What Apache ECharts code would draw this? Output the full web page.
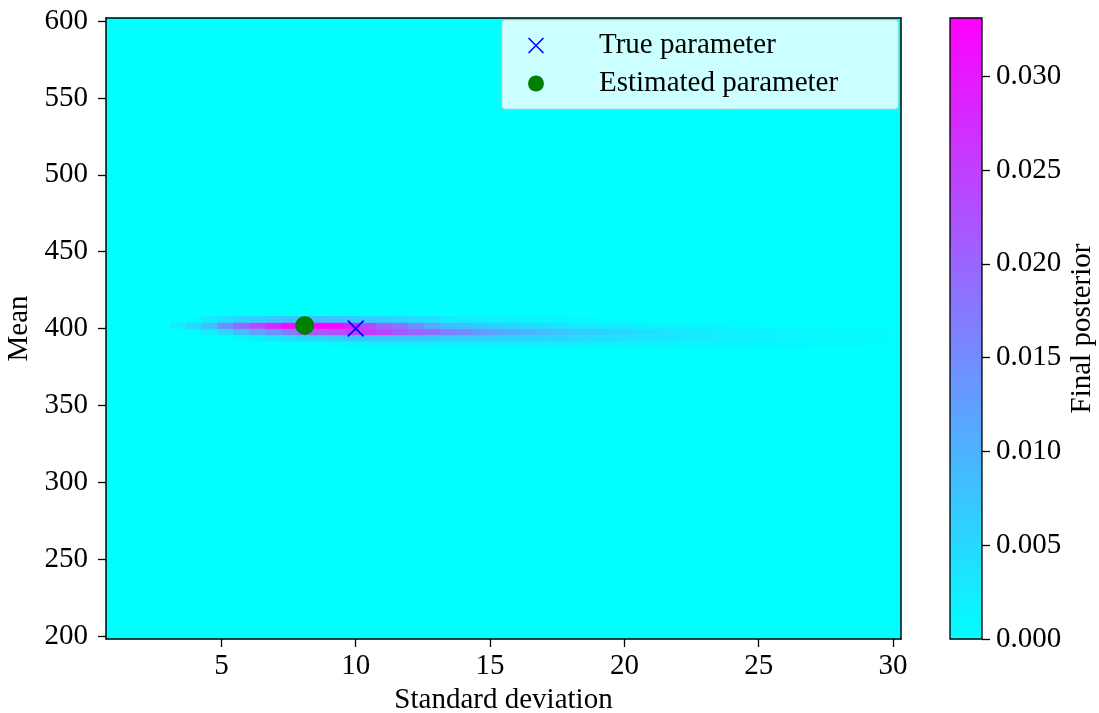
<!DOCTYPE html>
<html>
<head>
<meta charset="utf-8">
<script src="https://cdn.jsdelivr.net/npm/echarts@6/dist/echarts.min.js"></script>
<style>
  html, body { margin: 0; padding: 0; background: #ffffff; }
  #chart { width: 1099px; height: 713px; }
</style>
</head>
<body>
<div id="chart"></div>
<script>
// ---------------- DATA ----------------
// Standard-deviation grid (50 columns) of the posterior heatmap
const sigmaGrid = [1.000, 1.592, 2.184, 2.776, 3.367, 3.959, 4.551, 5.143, 5.735, 6.327,
  6.918, 7.510, 8.102, 8.694, 9.286, 9.878, 10.469, 11.061, 11.653, 12.245,
  12.837, 13.429, 14.020, 14.612, 15.204, 15.796, 16.388, 16.980, 17.571, 18.163,
  18.755, 19.347, 19.939, 20.531, 21.122, 21.714, 22.306, 22.898, 23.490, 24.082,
  24.673, 25.265, 25.857, 26.449, 27.041, 27.633, 28.224, 28.816, 29.408, 30.000];

// Mean rows where the posterior is visibly non-zero (all others are 0)
const meanRows = [389.90, 393.94, 397.98, 402.02, 406.06];

// Posterior values (x 1e-3) along each mean row, one per sigma column
const post389 = [0,0,0,0,0,0,0,0,0,0, 0,0,0,0,0.7,1.0,1.3,1.7,1.7,2.0,
  2.0,2.0,2.0,2.0,2.0,2.0,2.0,2.0,2.0,2.0, 2.0,1.7,1.7,1.7,1.7,1.7,1.3,1.3,1.3,1.3,
  1.0,1.0,1.0,1.0,0.7,0.7,0.7,0.7,0.3,0.3];
const post394 = [0,0,0,0,0,0,0,0,1.0,2.0, 3.3,4.3,5.3,5.9,6.6,7.3,7.6,7.6,7.6,7.3,
  6.9,6.6,6.6,6.3,5.9,5.9,5.6,5.3,5.3,5.0, 4.6,4.3,4.0,3.6,3.3,3.0,2.6,2.6,2.3,2.0,
  1.7,1.7,1.3,1.3,1.0,1.0,0.7,0.7,0.7,0.3];
const post398 = [0,0,0,0,0,0.7,2.0,5.0,8.3,11.6, 13.9,16.5,19.8,21.5,23.1,24.8,26.4,24.8,22.4,20.5,
  19.1,16.5,14.9,13.2,11.9,10.6,9.6,8.6,7.6,6.6, 6.3,5.6,5.0,4.3,4.0,3.3,3.0,2.6,2.3,2.0,
  1.7,1.7,1.3,1.3,1.0,1.0,0.7,0.7,0.7,0.3];
const post402 = [0,0,0,0,2.3,5.0,8.3,14.9,19.8,23.8, 28.1,31.4,33.0,33.0,32.3,29.7,23.8,20.5,18.2,14.9,
  11.6,9.2,8.3,7.3,6.6,5.9,5.0,4.3,4.0,3.3, 3.0,2.6,2.3,2.0,1.7,1.7,1.3,1.0,1.0,0.7,
  0.7,0.3,0.3,0.3,0.3,0,0,0,0,0];
const post406 = [0,0,0,0,0,0.7,2.6,4.0,5.6,6.6, 7.3,7.9,8.3,8.3,7.9,7.3,6.6,5.9,5.3,4.6,
  4.0,2.6,2.3,2.0,1.7,1.7,1.3,1.0,1.0,0.7, 0.7,0.3,0.3,0.3,0.3,0.3,0,0,0,0,
  0,0,0,0,0,0,0,0,0,0];
const postRows = [post389, post394, post398, post402, post406];

const trueParam = [10, 400];
const estParam = [8.102, 402.02];

const xTicks = [5, 10, 15, 20, 25, 30];
const yTicks = [200, 250, 300, 350, 400, 450, 500, 550, 600];
const cbTicks = [0, 0.005, 0.010, 0.015, 0.020, 0.025, 0.030];
const VMAX = 0.0331;

// grid extents (full cell coverage of linspace(1,30,50) x linspace(200,600,100))
const CELL_W = 29 / 49;
const CELL_H = 400 / 99;
const X_MIN = 1 - CELL_W / 2, X_MAX = 30 + CELL_W / 2;
const Y_MIN = 200 - CELL_H / 2, Y_MAX = 600 + CELL_H / 2;

// --------------- BUILD ----------------
const heatData = [];
postRows.forEach((row, r) => {
  row.forEach((v, j) => {
    if (v > 0) heatData.push([sigmaGrid[j], meanRows[r], v / 1000]);
  });
});

const FONT = 'Liberation Serif';
const FS = 29;
const txt = { fontFamily: FONT, fontSize: FS, color: '#000' };
const XPATH = 'path://M0,1.4 L1.4,0 L10,8.6 L18.6,0 L20,1.4 L11.4,10 L20,18.6 L18.6,20 L10,11.4 L1.4,20 L0,18.6 L8.6,10 Z';

const chart = echarts.init(document.getElementById('chart'), null, { renderer: 'canvas' });

const option = {
  animation: false,
  backgroundColor: '#ffffff',
  grid: [
    { left: 106, top: 18, width: 795, height: 621, show: true, backgroundColor: '#00ffff', borderWidth: 0,
      containLabel: false, outerBoundsMode: 'none' },
    { left: 950, top: 18, width: 32, height: 621, show: false, containLabel: false, outerBoundsMode: 'none' }
  ],
  xAxis: [
    {
      type: 'value', gridIndex: 0, min: X_MIN, max: X_MAX, position: 'bottom', z: 10,
      name: 'Standard deviation', nameLocation: 'middle', nameGap: 42, nameTextStyle: txt,
      axisLine: { show: true, onZero: false, lineStyle: { color: '#000', width: 1.5 } },
      axisTick: { show: true, length: 8, inside: false, customValues: xTicks, lineStyle: { color: '#000', width: 1.3 } },
      axisLabel: { show: true, margin: 13, customValues: xTicks, ...txt, formatter: v => String(v) },
      splitLine: { show: false }
    },
    {
      type: 'value', gridIndex: 0, min: X_MIN, max: X_MAX, position: 'top', z: 10,
      axisLine: { show: true, onZero: false, lineStyle: { color: '#000', width: 1.5 } },
      axisTick: { show: false }, axisLabel: { show: false }, splitLine: { show: false }
    },
    {
      type: 'value', gridIndex: 1, min: 0, max: 1, show: false,
      axisLine: { onZero: false }
    }
  ],
  yAxis: [
    {
      type: 'value', gridIndex: 0, min: Y_MIN, max: Y_MAX, position: 'left', z: 10,
      name: 'Mean', nameLocation: 'middle', nameGap: 66, nameTextStyle: txt,
      axisLine: { show: true, onZero: false, lineStyle: { color: '#000', width: 1.5 } },
      axisTick: { show: true, length: 8, customValues: yTicks, lineStyle: { color: '#000', width: 1.3 } },
      axisLabel: { show: true, margin: 18, customValues: yTicks, ...txt, formatter: v => String(Math.round(v)) },
      splitLine: { show: false }
    },
    {
      type: 'value', gridIndex: 0, min: Y_MIN, max: Y_MAX, position: 'right', z: 10,
      axisLine: { show: true, onZero: false, lineStyle: { color: '#000', width: 1.5 } },
      axisTick: { show: false }, axisLabel: { show: false }, splitLine: { show: false }
    },
    {
      type: 'value', gridIndex: 1, min: 0, max: VMAX, position: 'right', z: 10,
      name: 'Final posterior', nameLocation: 'middle', nameGap: 86, nameRotate: 90, nameTextStyle: txt,
      axisLine: { show: false, onZero: false },
      axisTick: { show: true, length: 8, customValues: cbTicks, lineStyle: { color: '#000', width: 1.3 } },
      axisLabel: { show: true, margin: 14, customValues: cbTicks, ...txt, formatter: v => v.toFixed(3) },
      splitLine: { show: false }
    }
  ],
  visualMap: {
    type: 'continuous', show: false, min: 0, max: VMAX, dimension: 2, seriesIndex: 0,
    inRange: { color: ['#00ffff', '#ff00ff'] }
  },
  legend: {
    left: 502, top: 20, orient: 'vertical', z: 12,
    padding: [11, 60, 11, 26], itemGap: 9, itemWidth: 30, itemHeight: 16,
    backgroundColor: 'rgba(255,255,255,0.8)', borderColor: 'rgba(204,204,204,0.8)', borderWidth: 1, borderRadius: 3,
    textStyle: { fontFamily: FONT, fontSize: FS, color: '#000', lineHeight: 29, padding: [0, 0, 0, 43] },
    data: ['True parameter', 'Estimated parameter']
  },
  series: [
    {
      type: 'custom', name: 'posterior', xAxisIndex: 0, yAxisIndex: 0, silent: true, clip: true,
      encode: { x: 0, y: 1 },
      data: heatData,
      renderItem: function (params, api) {
        const s = api.value(0), m = api.value(1);
        const p0 = api.coord([s - CELL_W / 2, m + CELL_H / 2]);
        const p1 = api.coord([s + CELL_W / 2, m - CELL_H / 2]);
        return {
          type: 'rect',
          shape: { x: p0[0], y: p0[1], width: p1[0] - p0[0] + 0.4, height: p1[1] - p0[1] + 0.4 },
          style: { fill: api.visual('color') }
        };
      }
    },
    {
      type: 'custom', name: 'colorbar', xAxisIndex: 2, yAxisIndex: 2, silent: true,
      data: [[VMAX]],
      renderItem: function (params, api) {
        const top = api.coord([0, api.value(0)]);
        const bot = api.coord([1, 0]);
        return {
          type: 'rect',
          shape: { x: top[0], y: top[1], width: bot[0] - top[0], height: bot[1] - top[1] },
          style: {
            fill: new echarts.graphic.LinearGradient(0, 0, 0, 1, [
              { offset: 0, color: '#ff00ff' }, { offset: 1, color: '#00ffff' }
            ]),
            stroke: '#000', lineWidth: 1.3
          }
        };
      }
    },
    {
      type: 'scatter', name: 'True parameter', xAxisIndex: 0, yAxisIndex: 0, z: 5,
      symbol: XPATH, symbolSize: 17, itemStyle: { color: '#0000ff', opacity: 1 },
      data: [trueParam]
    },
    {
      type: 'scatter', name: 'Estimated parameter', xAxisIndex: 0, yAxisIndex: 0, z: 6,
      symbol: 'circle', symbolSize: 19, itemStyle: { color: '#008000', opacity: 1 },
      data: [estParam]
    }
  ]
};
chart.setOption(option);
</script>
</body>
</html>
